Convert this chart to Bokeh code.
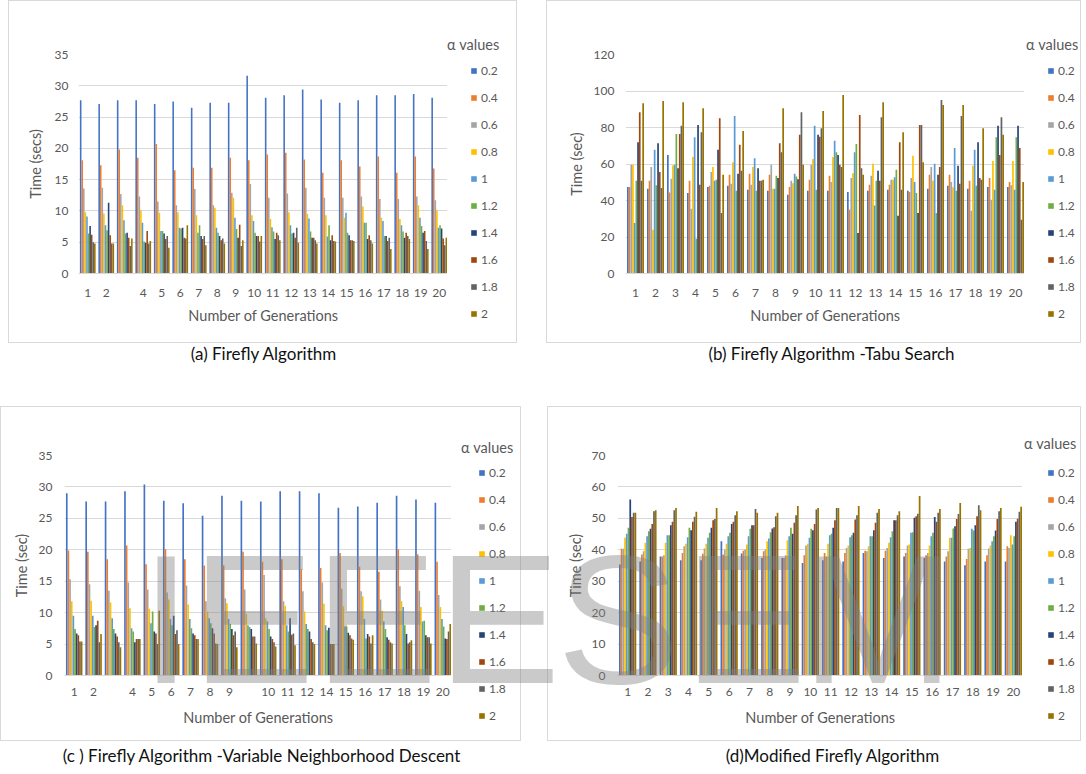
from bokeh.plotting import figure
from bokeh.models import (Range1d, SingleIntervalTicker, FixedTicker, Legend, LegendItem,
                          Div, Spacer, ColumnDataSource)
from bokeh.layouts import row, column
from bokeh.transform import dodge
from bokeh.embed import file_html
from bokeh.resources import INLINE

# ---------------- data ----------------
alphas = ["0.2", "0.4", "0.6", "0.8", "1", "1.2", "1.4", "1.6", "1.8", "2"]
colors = ["#4472C4", "#ED7D31", "#A5A5A5", "#FFC000", "#5B9BD5",
          "#70AD47", "#264478", "#9E480E", "#636363", "#997300"]
generations = [1, 2, 3, 4, 5, 6, 7, 8, 9, 10, 11, 12, 13, 14, 15, 16, 17, 18, 19, 20]

labels_a = ["1", "2", "", "4", "5", "6", "7", "8", "9", "10", "11", "12", "13", "14",
            "15", "16", "17", "18", "19", "20"]
labels_b = ["1", "2", "3", "4", "5", "6", "7", "8", "9", "10", "11", "12", "13", "14",
            "15", "16", "17", "18", "19", "20"]
labels_c = ["1", "2", "", "4", "5", "6", "7", "8", "9", "", "10", "11", "12", "14",
            "15", "16", "17", "18", "19", "20"]
labels_d = labels_b

# (a) Firefly Algorithm
fa_02 = [27.7, 27.1, 27.7, 27.7, 27.1, 27.5, 26.5, 27.3, 27.3, 31.6, 28.1, 28.5, 29.4, 27.8, 27.3, 27.7, 28.5, 28.5, 28.7, 28.1]
fa_04 = [18.1, 17.3, 19.8, 18.5, 20.7, 16.5, 16.9, 16.9, 18.5, 18.1, 19.0, 19.3, 18.2, 16.1, 18.1, 17.1, 18.7, 16.1, 18.7, 16.8]
fa_06 = [13.6, 13.7, 12.7, 12.3, 11.5, 10.9, 13.5, 10.9, 12.9, 14.3, 12.1, 12.8, 13.7, 12.1, 12.1, 12.3, 11.9, 11.9, 12.3, 11.7]
fa_08 = [9.8, 9.6, 10.9, 10.1, 9.7, 9.8, 9.3, 10.5, 12.1, 9.3, 8.7, 9.8, 9.5, 9.3, 8.9, 10.7, 8.9, 8.7, 10.9, 10.1]
fa_10 = [9.1, 7.7, 8.5, 8.1, 6.8, 7.3, 6.5, 7.3, 8.9, 8.4, 7.4, 7.7, 8.8, 5.9, 9.7, 8.1, 8.4, 7.7, 8.9, 7.3]
fa_12 = [6.4, 6.9, 6.4, 5.1, 6.8, 7.2, 7.7, 6.5, 7.1, 6.5, 6.7, 6.4, 6.7, 7.7, 6.5, 8.1, 6.0, 6.7, 7.6, 7.7]
fa_14 = [7.6, 11.3, 6.5, 4.9, 6.4, 7.3, 6.0, 6.0, 5.7, 6.0, 5.5, 6.5, 5.7, 5.3, 6.1, 5.5, 6.0, 5.7, 6.5, 7.2]
fa_16 = [6.2, 6.1, 5.7, 6.8, 5.5, 5.7, 5.5, 5.3, 7.8, 6.0, 6.5, 5.7, 5.7, 6.1, 5.3, 6.1, 5.2, 6.5, 6.8, 5.6]
fa_18 = [5.0, 4.8, 4.4, 4.8, 6.0, 5.6, 6.0, 5.6, 4.4, 5.1, 6.1, 7.3, 5.3, 5.2, 5.3, 5.3, 5.7, 6.0, 5.2, 4.5]
fa_20 = [4.8, 4.8, 5.6, 5.2, 4.1, 7.7, 4.5, 4.8, 5.3, 6.0, 5.3, 4.9, 4.8, 5.1, 5.2, 4.8, 3.9, 5.5, 3.9, 5.7]

# (b) Firefly Algorithm - Tabu Search
fb_02 = [47.4, 46.4, 65.0, 44.1, 47.4, 48.1, 45.9, 45.4, 43.2, 45.4, 45.4, 44.6, 45.4, 45.9, 45.4, 46.4, 48.1, 46.4, 47.4, 47.4]
fb_04 = [47.4, 50.8, 44.4, 50.8, 48.1, 54.1, 54.6, 54.1, 47.4, 51.4, 53.6, 35.0, 48.6, 48.6, 44.6, 54.1, 54.1, 50.8, 52.3, 50.1]
fb_06 = [59.6, 58.3, 51.9, 35.5, 55.6, 49.2, 48.6, 59.6, 50.8, 59.6, 50.1, 52.3, 53.6, 51.4, 52.3, 58.3, 50.1, 34.4, 40.4, 48.3]
fb_08 = [59.6, 24.0, 59.2, 63.8, 58.3, 61.0, 58.3, 46.4, 49.5, 62.8, 63.8, 55.0, 60.1, 51.4, 64.5, 50.8, 47.2, 59.0, 61.7, 61.7]
fb_10 = [27.7, 67.8, 59.6, 74.7, 50.8, 86.3, 63.2, 46.4, 54.6, 80.9, 72.7, 66.5, 37.2, 52.8, 50.1, 60.1, 68.7, 67.8, 45.9, 45.9]
fb_12 = [50.8, 48.3, 76.5, 19.1, 51.4, 45.4, 45.4, 53.6, 53.2, 45.9, 66.5, 71.0, 50.8, 56.8, 44.1, 33.2, 45.4, 48.1, 74.7, 74.7]
fb_14 = [71.9, 71.4, 57.7, 81.4, 67.8, 54.6, 57.7, 52.3, 51.7, 76.0, 65.0, 22.2, 56.3, 31.7, 33.2, 54.1, 59.0, 71.9, 80.9, 80.9]
fb_16 = [88.3, 55.6, 76.5, 48.6, 85.1, 70.5, 50.8, 71.4, 76.0, 75.0, 59.6, 86.9, 50.8, 71.9, 81.4, 58.3, 49.2, 52.3, 65.0, 68.7]
fb_18 = [50.8, 46.8, 80.9, 77.4, 33.2, 56.3, 50.8, 66.5, 88.3, 79.6, 58.3, 57.7, 85.6, 45.9, 81.4, 95.1, 86.3, 51.4, 85.6, 29.5]
fb_20 = [93.3, 94.5, 93.8, 90.5, 54.1, 78.1, 51.4, 90.5, 59.6, 89.1, 97.8, 54.1, 93.8, 77.4, 61.0, 92.3, 92.3, 79.6, 76.0, 50.1]

# (c) Firefly Algorithm - Variable Neighborhood Descent
fc_02 = [29.0, 27.7, 27.7, 29.3, 30.4, 27.8, 27.4, 25.4, 28.6, 27.8, 27.7, 29.3, 29.3, 29.0, 26.7, 26.9, 27.5, 28.6, 28.0, 27.5]
fc_04 = [19.9, 19.7, 18.5, 20.7, 17.7, 20.1, 18.5, 17.5, 17.5, 19.7, 18.1, 18.5, 16.9, 17.1, 19.5, 17.3, 16.5, 20.1, 19.3, 18.1]
fc_06 = [15.3, 14.5, 13.5, 14.8, 13.7, 13.2, 14.3, 11.8, 12.3, 13.7, 16.0, 11.8, 13.4, 14.8, 13.8, 13.4, 12.1, 14.2, 13.5, 12.8]
fc_08 = [11.8, 11.9, 11.6, 10.7, 10.6, 12.1, 11.3, 10.2, 11.5, 9.8, 9.1, 11.1, 10.2, 11.4, 11.0, 12.6, 10.3, 11.8, 10.9, 10.9]
fc_10 = [9.5, 9.5, 9.1, 7.5, 8.3, 9.0, 9.0, 9.1, 9.0, 8.0, 8.6, 8.0, 8.2, 8.0, 7.8, 9.0, 8.6, 10.9, 8.6, 9.0]
fc_12 = [7.4, 7.7, 7.4, 7.0, 10.2, 8.0, 7.5, 8.3, 8.2, 7.7, 7.4, 7.0, 7.4, 7.2, 7.8, 5.9, 7.4, 8.0, 8.7, 7.8]
fc_14 = [6.7, 8.0, 6.7, 5.3, 7.0, 9.5, 6.7, 7.5, 7.4, 7.4, 6.2, 9.1, 7.0, 7.6, 6.8, 6.6, 6.1, 6.6, 6.4, 5.9]
fc_16 = [6.4, 8.7, 6.2, 5.8, 6.7, 6.6, 6.4, 6.7, 6.4, 6.2, 5.8, 6.5, 5.8, 5.0, 6.4, 6.2, 5.7, 5.1, 6.1, 5.8]
fc_18 = [5.4, 5.3, 5.3, 5.8, 5.0, 7.2, 5.8, 5.1, 7.0, 6.2, 5.3, 6.7, 5.3, 5.0, 5.9, 5.1, 5.3, 5.3, 6.1, 7.0]
fc_20 = [5.4, 6.6, 4.5, 5.8, 10.3, 5.0, 5.8, 5.0, 4.5, 5.1, 4.6, 4.8, 5.0, 5.0, 5.7, 6.4, 5.1, 5.6, 5.1, 8.2]

# (d) Modified Firefly Algorithm
fd_02 = [35.3, 36.3, 37.9, 36.7, 36.7, 42.7, 38.8, 37.4, 37.4, 35.8, 36.7, 36.3, 39.0, 37.4, 37.9, 37.4, 36.3, 35.1, 36.3, 36.3]
fd_04 = [40.3, 38.5, 37.9, 39.0, 38.7, 38.5, 39.7, 39.5, 37.4, 38.3, 39.0, 39.0, 39.7, 39.7, 39.0, 38.3, 37.9, 37.1, 38.3, 41.1]
fd_06 = [40.3, 39.5, 38.3, 41.1, 40.4, 40.1, 40.1, 40.1, 38.3, 41.4, 37.9, 40.6, 39.5, 40.6, 41.4, 39.0, 39.5, 40.3, 40.4, 40.6]
fd_08 = [43.8, 42.2, 42.2, 41.9, 41.9, 41.9, 41.7, 42.7, 43.0, 41.9, 41.9, 41.4, 41.1, 42.2, 41.7, 41.4, 43.8, 40.6, 41.4, 44.6]
fd_10 = [45.1, 44.3, 44.6, 44.0, 43.8, 44.3, 44.3, 43.6, 44.3, 43.8, 44.6, 44.0, 44.3, 44.0, 45.4, 44.3, 43.8, 46.7, 42.7, 41.7]
fd_12 = [47.0, 45.9, 44.6, 47.0, 45.4, 45.4, 46.7, 45.6, 47.0, 46.7, 45.1, 44.6, 44.3, 45.9, 45.6, 45.4, 46.8, 46.1, 44.3, 44.3]
fd_14 = [56.0, 46.7, 47.8, 46.2, 47.0, 48.2, 47.8, 46.8, 45.1, 46.2, 47.0, 45.4, 46.2, 49.4, 50.2, 50.4, 47.5, 47.8, 46.1, 48.9]
fd_16 = [50.4, 48.2, 48.9, 48.9, 49.4, 48.9, 47.8, 47.2, 48.6, 48.2, 49.4, 49.6, 48.6, 49.4, 50.7, 48.9, 49.8, 50.7, 49.8, 49.9]
fd_18 = [51.8, 52.3, 52.6, 50.5, 49.8, 51.0, 53.0, 50.7, 51.0, 52.8, 53.3, 51.0, 51.8, 51.0, 51.5, 51.8, 51.4, 54.2, 52.3, 52.1]
fd_20 = [51.8, 52.6, 53.3, 52.1, 53.3, 52.3, 51.8, 51.8, 53.9, 53.3, 53.3, 53.9, 53.0, 52.3, 57.1, 53.0, 54.9, 52.6, 53.3, 53.7]

series_a = [fa_02, fa_04, fa_06, fa_08, fa_10, fa_12, fa_14, fa_16, fa_18, fa_20]
series_b = [fb_02, fb_04, fb_06, fb_08, fb_10, fb_12, fb_14, fb_16, fb_18, fb_20]
series_c = [fc_02, fc_04, fc_06, fc_08, fc_10, fc_12, fc_14, fc_16, fc_18, fc_20]
series_d = [fd_02, fd_04, fd_06, fd_08, fd_10, fd_12, fd_14, fd_16, fd_18, fd_20]

# ---------------- styling ----------------
FONT = "Lato"
TXT = "#595959"
GRID = "#d9d9d9"
BORDER = "1px solid #d9d9d9"
BW = 0.085


def make_chart(series, ymax, ystep, ylabel, xlabels, W, H, fl, ft, fb,
               ytick_so, ylab_so, xtick_so, xlab_so):
    p = figure(width=W, height=H, x_range=Range1d(0.5, 20.5), y_range=Range1d(0, ymax),
               output_backend="svg", toolbar_location=None,
               min_border_left=fl, min_border_right=0, min_border_top=ft, min_border_bottom=fb,
               outline_line_color=None, background_fill_color="white", border_fill_color="white",
               styles={"border-left": BORDER, "border-top": BORDER, "border-bottom": BORDER})
    data = {"gen": generations}
    for i, vals in enumerate(series):
        data["s%d" % i] = vals
    src = ColumnDataSource(data)
    for i, c in enumerate(colors):
        p.vbar(x=dodge("gen", (i - 4.5) * BW, range=p.x_range), top="s%d" % i,
               width=BW, bottom=0, source=src, fill_color=c, line_color=None)

    p.xgrid.visible = False
    p.ygrid.grid_line_color = GRID
    p.ygrid.grid_line_width = 1

    yax = p.yaxis[0]
    yax.ticker = SingleIntervalTicker(interval=ystep, num_minor_ticks=0)
    yax.axis_line_color = None
    yax.major_tick_line_color = None
    yax.minor_tick_line_color = None
    yax.major_tick_out = 0
    yax.major_tick_in = 0
    yax.minor_tick_out = 0
    yax.minor_tick_in = 0
    yax.major_label_text_font = FONT
    yax.major_label_text_font_size = "12px"
    yax.major_label_text_color = TXT
    yax.major_label_standoff = ytick_so
    yax.axis_label = ylabel
    yax.axis_label_text_font = FONT
    yax.axis_label_text_font_size = "14.5px"
    yax.axis_label_text_font_style = "normal"
    yax.axis_label_text_color = TXT
    yax.axis_label_standoff = ylab_so

    xax = p.xaxis[0]
    xax.ticker = FixedTicker(ticks=generations)
    xax.major_label_overrides = {g: lab for g, lab in zip(generations, xlabels)}
    xax.axis_line_color = GRID
    xax.major_tick_line_color = None
    xax.minor_tick_line_color = None
    xax.major_tick_out = 0
    xax.major_tick_in = 0
    xax.minor_tick_out = 0
    xax.minor_tick_in = 0
    xax.major_label_text_font = FONT
    xax.major_label_text_font_size = "12px"
    xax.major_label_text_color = TXT
    xax.major_label_standoff = xtick_so
    xax.axis_label = "Number of Generations"
    xax.axis_label_text_font = FONT
    xax.axis_label_text_font_size = "14.5px"
    xax.axis_label_text_font_style = "normal"
    xax.axis_label_text_color = TXT
    xax.axis_label_standoff = xlab_so
    return p


def make_legend(W, H, glyph_x, items_vy, title_x, title_vy):
    q = figure(width=W, height=H, x_range=Range1d(0, 1), y_range=Range1d(0, 1),
               output_backend="svg", toolbar_location=None,
               x_axis_location=None, y_axis_location=None, min_border=0,
               outline_line_color=None, background_fill_color="white", border_fill_color="white",
               styles={"border-right": BORDER, "border-top": BORDER, "border-bottom": BORDER})
    if "frame_align" in q.properties():
        q.frame_align = False
    q.grid.visible = False
    # zero-size placeholder glyphs that only carry the legend swatch colours
    rends = [q.vbar(x=[0.5], top=[0], bottom=0, width=0, fill_color=c, line_color=None)
             for c in colors]
    items = [LegendItem(label=a, renderers=[r]) for a, r in zip(alphas, rends)]
    q.add_layout(Legend(items=items, location=(glyph_x, items_vy), orientation="vertical",
                        glyph_width=7, glyph_height=7, label_height=15, spacing=12,
                        padding=0, margin=0, label_standoff=4,
                        border_line_color=None, background_fill_alpha=0,
                        label_text_font=FONT, label_text_font_size="12px",
                        label_text_color=TXT))
    ghost = q.vbar(x=[0.5], top=[0], bottom=0, width=0, fill_alpha=0, line_alpha=0)
    q.add_layout(Legend(items=[LegendItem(label="\u03b1 values", renderers=[ghost])],
                        location=(title_x, title_vy), glyph_width=0, glyph_height=1,
                        label_height=17, label_standoff=0, padding=0, margin=0,
                        border_line_color=None, background_fill_alpha=0,
                        label_text_font=FONT, label_text_font_size="14.5px",
                        label_text_color=TXT))
    return q


def caption(text, w, h, shift=0, pad=0, marks=()):
    spans = "".join(
        '<span style="position:absolute;left:%dpx;top:%dpx;width:200px;text-align:center;'
        'font-family:\'Liberation Sans\';font-size:184px;line-height:184px;'
        'color:rgba(128,128,128,0.42);pointer-events:none;white-space:nowrap;">%s</span>'
        % (lx, ty, ch) for ch, lx, ty in marks)
    html = ('<div style="position:relative;width:%dpx;height:%dpx;">'
            '<div style="width:%dpx;padding-top:%dpx;text-align:center;font-family:Lato;font-size:17px;'
            'color:#111;line-height:22px;white-space:nowrap;">'
            '<span style="position:relative;left:%dpx">%s</span></div>%s</div>'
            % (w, h, w, pad, shift, text, spans))
    return Div(text=html, width=w, height=h, margin=0, styles={"overflow": "visible"})


pa = make_chart(series_a, 35, 5, "Time (secs)", labels_a, 439, 343, 69, 53, 71, 10, 8, 15, 7)
la = make_legend(70, 343, 23, 23, 0, 291)
pb = make_chart(series_b, 120, 20, "Time (sec)", labels_b, 478, 343, 78, 53, 71, 11, 6, 15, 7)
lb = make_legend(57, 343, 23, 23, 2, 291)
pc = make_chart(series_c, 35, 5, "Time (sec)", labels_c, 451, 335, 63, 48, 67, 12, 6, 12, 10)
lc = make_legend(70, 335, 27, 19, 10, 286)
pd = make_chart(series_d, 70, 10, "Time (sec)", labels_d, 475, 335, 69, 48, 67, 12, 5, 12, 10)
ld = make_legend(59, 335, 25, 19, 2, 290)

# watermark letters, positioned relative to the caption boxes (baseline at y=687)
marks_c = [("I", 66, -214), ("E", 153, -214), ("E", 276, -214), ("E", 399, -214)]
marks_d = [("S", -31, -214), ("E", 96, -214), ("M", 229, -214)]

layout = column(
    row(Spacer(width=8, height=10), pa, la, Spacer(width=29, height=10), pb, lb),
    row(Spacer(width=8, height=10), caption("(a) Firefly Algorithm", 511, 20),
        Spacer(width=29, height=10),
        caption("(b) Firefly Algorithm -Tabu Search", 537, 20, 15)),
    Spacer(width=10, height=43),
    row(pc, lc, Spacer(width=26, height=10), pd, ld),
    row(caption("(c ) Firefly Algorithm -Variable Neighborhood Descent", 523, 25, 0, 4, marks_c),
        Spacer(width=26, height=10),
        caption("(d)Modified Firefly Algorithm", 537, 25, 15, 4, marks_d)),
)

open("out.html", "w").write(file_html(layout, INLINE))
